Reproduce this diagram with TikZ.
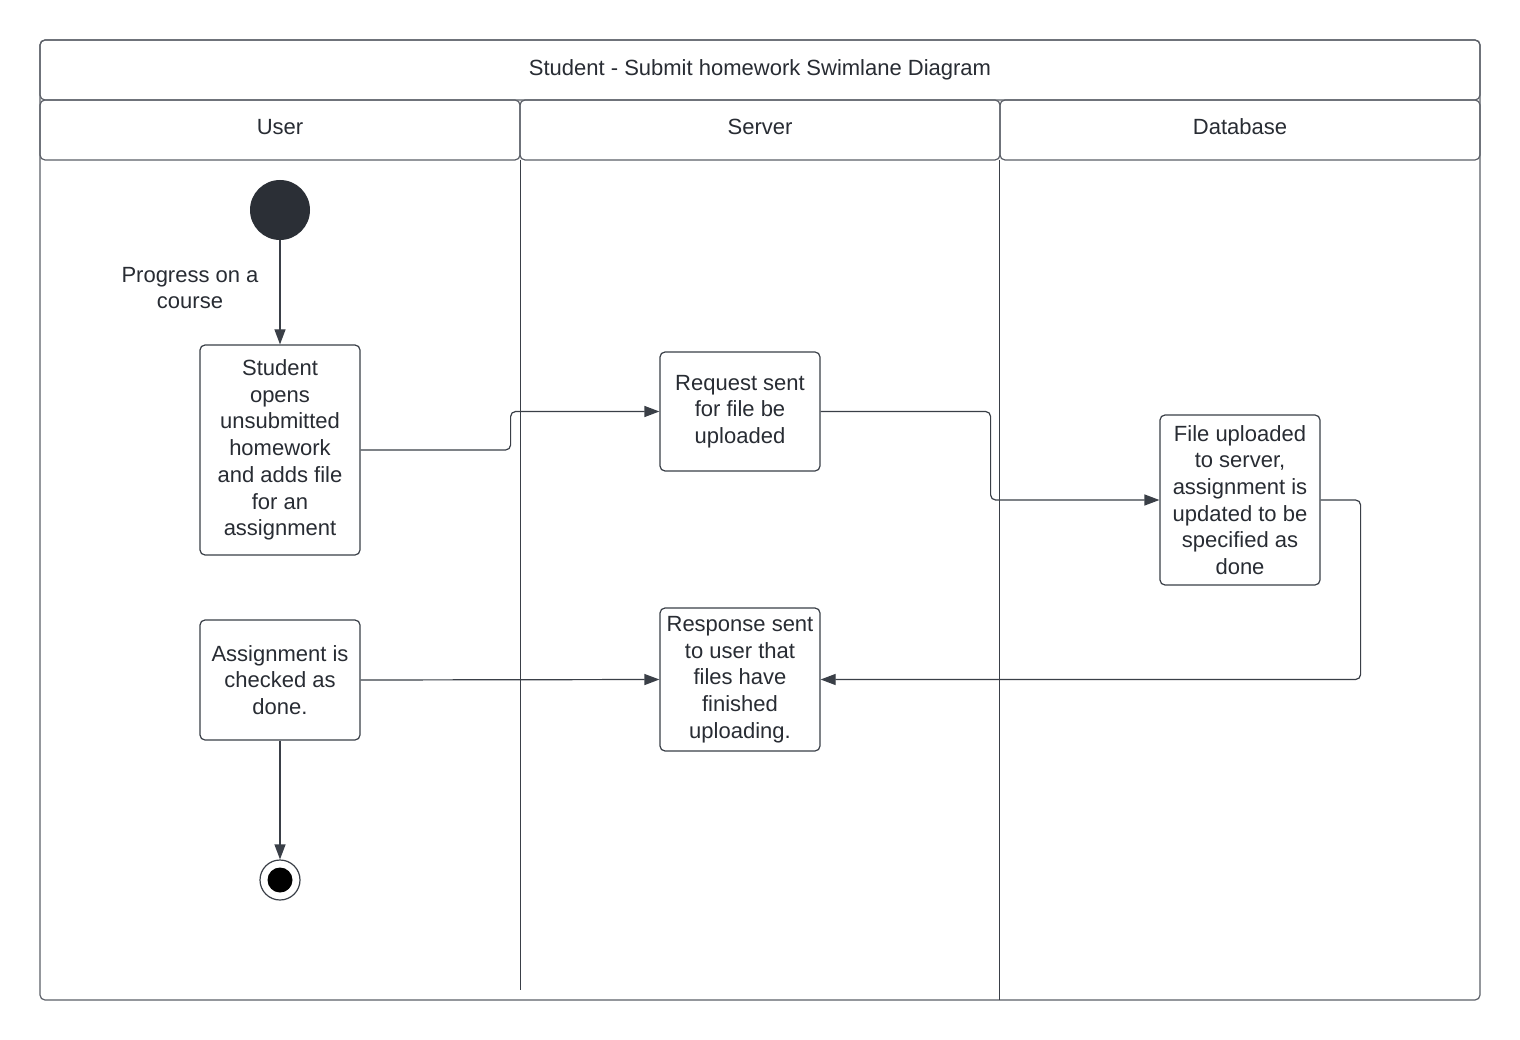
\documentclass[tikz,border=0pt]{standalone}
\usepackage{fontspec}
\setmainfont{Liberation Sans}
\usetikzlibrary{arrows.meta}
\definecolor{ln}{HTML}{3A3F47}
\definecolor{fr}{HTML}{5C6068}
\definecolor{tx}{HTML}{282C33}
\definecolor{dk}{HTML}{2B2F36}
\tikzset{
  frame/.style={draw=fr,line width=1.2pt,rounded corners=5pt},
  lanehead/.style={draw=fr,line width=1.2pt,rounded corners=5pt,minimum width=480pt,minimum height=60pt,inner sep=0pt,text=tx,text height=15pt,text depth=6pt,font=\fontsize{22}{26.7}\selectfont},
  actbox/.style={draw=ln,line width=1.2pt,rounded corners=5pt,minimum width=160pt,inner sep=0pt,align=center,text=tx,font=\fontsize{22}{26.7}\selectfont},
  arr/.style={draw=ln,line width=1.2pt,-{Triangle[length=15pt,width=11pt]},rounded corners=5pt},
  lbl/.style={text=tx,align=center,font=\fontsize{22}{26.7}\selectfont},
  divider/.style={draw=ln,line width=1pt},
}
\begin{document}
\begin{tikzpicture}[x=1pt,y=-1pt]
\useasboundingbox (0,0) rectangle (1520,1040);
\fill[white] (0,0) rectangle (1520,1040);
% outer frame
\draw[frame] (40,40) rectangle (1480,1000);
\node[draw=fr,line width=1.2pt,rounded corners=5pt,minimum width=1440pt,minimum height=60pt,inner sep=0pt,text=tx,font=\fontsize{22}{26.7}\selectfont] (title) at (760,70) {Student - Submit homework Swimlane Diagram};
\node[lanehead] (huser) at (280,130) {User};
\node[lanehead] (hserver) at (760,130) {Server};
\node[lanehead] (hdb) at (1240,130) {Database};
% lane dividers
\draw[divider] (520.5,160) -- (520.5,990);
\draw[divider] (999.5,160) -- (999.5,1000);
% start / end
\node[circle,fill=dk,minimum size=60pt,inner sep=0pt] (start) at (280,210) {};
\node[circle,draw=ln,line width=1.2pt,fill=white,minimum size=40pt,inner sep=0pt] (end) at (280,880) {};
\fill[black] (end.center) circle (12.5pt);
% boxes
\node[actbox,minimum height=210pt] (b1) at (280,450) {Student\\opens\\unsubmitted\\homework\\and adds file\\for an\\assignment};
\node[actbox,minimum height=119pt] (b2) at (740,411.5) {Request sent\\for file be\\uploaded};
\node[actbox,minimum height=170pt] (b3) at (1240,500) {File uploaded\\to server,\\assignment is\\updated to be\\specified as\\done};
\node[actbox,minimum height=143pt] (b4) at (740,679.5) {Response sent\\to user that\\files have\\finished\\uploading.};
\node[actbox,minimum height=120pt] (b5) at (280,680) {Assignment is\\checked as\\done.};
% connectors
\draw[arr] (start) -- (b1.north);
\node[lbl] (plabel) at (190,288) {Progress on a\\course};
\draw[arr] (b1.east) -- ++(150,0) |- (b2.west);
\draw[arr] (b2.east) -- ++(170,0) |- (b3.west);
\draw[arr] (b3.east) -- ++(40,0) |- (b4.east);
\draw[arr] (b5.east) -- (b4.west);
\draw[arr] (b5.south) -- (end.north);
\end{tikzpicture}
\end{document}
